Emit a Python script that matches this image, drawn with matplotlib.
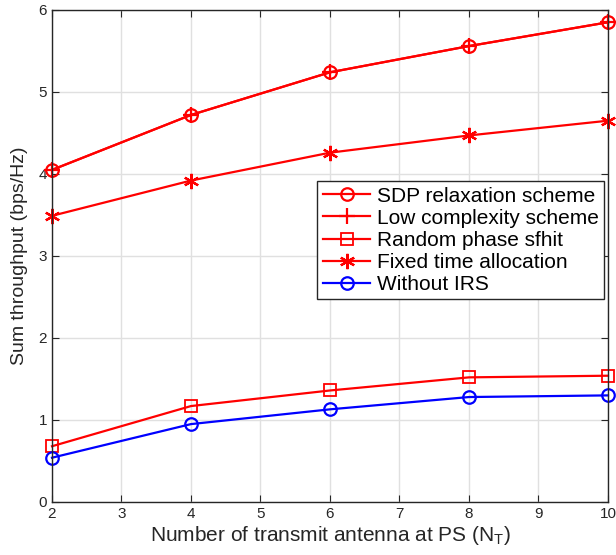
import matplotlib
matplotlib.use("Agg")
import matplotlib.pyplot as plt

# number of transmit antennas
n_t = [2, 4, 6, 8, 10]

# sum throughput values
sdp = [4.05, 4.72, 5.24, 5.56, 5.85]
low_complexity = [4.05, 4.72, 5.24, 5.56, 5.85]
random_phase = [0.68, 1.17, 1.36, 1.52, 1.54]
fixed_time = [3.49, 3.92, 4.26, 4.47, 4.65]
without_irs = [0.54, 0.95, 1.13, 1.28, 1.30]

labels = ["SDP relaxation scheme", "Low complexity scheme",
          "Random phase sfhit", "Fixed time allocation", "Without IRS"]


def main():
    plt.rcParams['font.family'] = ['Liberation Sans', 'DejaVu Sans']

    fig = plt.figure(figsize=(6.16, 5.55), dpi=100)
    ax = fig.add_axes([0.0844, 0.0955, 0.9026, 0.8865])

    ms = 9
    lw = 1.6
    ax.plot(n_t, sdp, color="red", marker="o", ms=ms, mfc="none", mew=1.6,
            lw=lw, label=labels[0], clip_on=False)
    ax.plot(n_t, low_complexity, color="red", marker="+", ms=12, mew=1.6,
            lw=lw, label=labels[1], clip_on=False)
    ax.plot(n_t, random_phase, color="red", marker="s", ms=8, mfc="none",
            mew=1.3, lw=lw, label=labels[2], clip_on=False)
    # matlab style asterisk
    ax.plot(n_t, fixed_time, color="red", marker=(6, 2, 0), ms=11, mew=1.6,
            lw=lw, label=labels[3], clip_on=False)
    ax.plot(n_t, without_irs, color="blue", marker="o", ms=ms, mfc="none",
            mew=1.6, lw=lw, label=labels[4], clip_on=False)

    ax.set_xlim(2, 10)
    ax.set_ylim(0, 6)
    ax.set_xticks(range(2, 11))
    ax.set_yticks(range(0, 7))
    ax.grid(True, color="#e0e0e0", lw=1)
    ax.set_axisbelow(True)
    ax.tick_params(direction="in", top=True, right=True, labelsize=11,
                   colors="#262626", length=5)
    for s in ax.spines.values():
        s.set_color("#262626")
        s.set_linewidth(1.0)

    ax.set_xlabel("Number of transmit antenna at PS (N$_\\mathregular{T}$)",
                  fontsize=15, color="#262626", labelpad=2)
    ax.set_ylabel("Sum throughput (bps/Hz)", fontsize=14, color="#262626",
                  labelpad=8)

    leg = ax.legend(loc="upper right", bbox_to_anchor=(1.0, 0.66),
                    fontsize=15, fancybox=False, framealpha=1,
                    edgecolor="#262626", borderpad=0.25, labelspacing=0.15,
                    handlelength=2.3, handletextpad=0.3, borderaxespad=0.2)
    leg.get_frame().set_linewidth(1.0)
    leg.set_zorder(5)

    fig.savefig("out.png", dpi=100)


if __name__ == "__main__":
    main()
